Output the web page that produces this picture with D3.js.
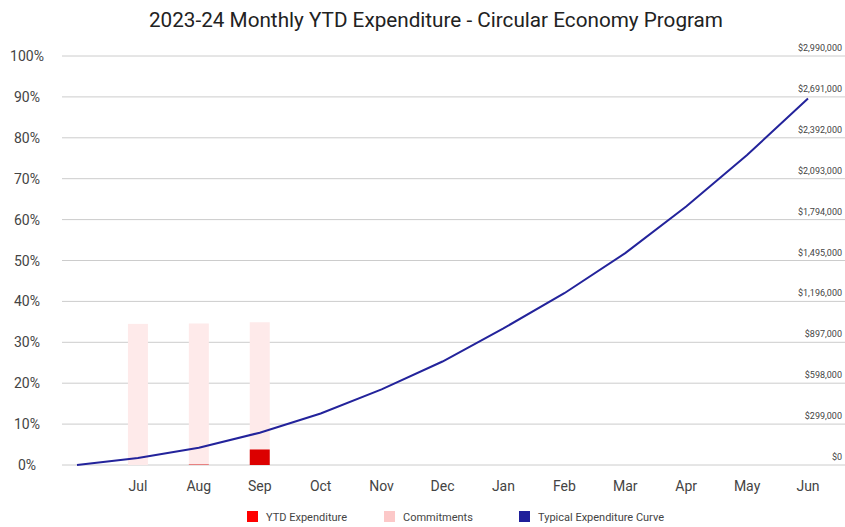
<!DOCTYPE html>
<html>
<head>
<meta charset="utf-8">
<script src="https://cdn.jsdelivr.net/npm/d3@7"></script>
<style>
  body { margin: 0; background: #fff; }
  text { font-family: Roboto, "Liberation Sans", Arial, sans-serif; }
</style>
</head>
<body>
<div id="chart"></div>
<script>
// months (first slot is the empty start point of the curve)
const months = ['', 'Jul', 'Aug', 'Sep', 'Oct', 'Nov', 'Dec', 'Jan', 'Feb', 'Mar', 'Apr', 'May', 'Jun'];
const ytdExpenditure = [null, 0, 0.2, 3.8, null, null, null, null, null, null, null, null, null];
const commitments = [null, 34.5, 34.4, 31.1, null, null, null, null, null, null, null, null, null];
const typicalCurve = [0, 1.7, 4.2, 7.9, 12.6, 18.5, 25.3, 33.4, 42.0, 51.8, 63.2, 75.8, 89.6];
const pctTicks = [0, 10, 20, 30, 40, 50, 60, 70, 80, 90, 100];
const budget = 2990000;

const width = 845, height = 527;
const svg = d3.select('#chart').append('svg')
  .attr('width', width)
  .attr('height', height);

const x = d3.scalePoint().domain(months).range([77, 808]);
const y = d3.scaleLinear().domain([0, 100]).range([465, 56]);
const yDollar = d3.scaleLinear().domain([0, budget]).range([465, 56]);

// title
svg.append('text')
  .attr('x', 436).attr('y', 27)
  .attr('text-anchor', 'middle')
  .style('font-size', '20.7px')
  .style('fill', '#222')
  .text('2023-24 Monthly YTD Expenditure - Circular Economy Program');

// gridlines
svg.append('g')
  .selectAll('line')
  .data(pctTicks)
  .enter()
  .append('line')
  .attr('x1', 62).attr('x2', 845)
  .attr('y1', d => y(d)).attr('y2', d => y(d))
  .style('stroke', '#cccccc')
  .style('stroke-width', 1);

// left axis labels
svg.append('g')
  .selectAll('text')
  .data(pctTicks)
  .enter()
  .append('text')
  .attr('x', 27)
  .attr('y', d => y(d) + 5)
  .attr('text-anchor', 'middle')
  .style('font-size', '14px')
  .style('fill', '#444')
  .text(d => d + '%');

// right axis labels (dollars)
const fmt = d3.format('$,');
svg.append('g')
  .selectAll('text')
  .data(pctTicks.map(p => budget * p / 100))
  .enter()
  .append('text')
  .attr('x', 842)
  .attr('y', d => yDollar(d) - 5)
  .attr('text-anchor', 'end')
  .style('font-size', '9px')
  .style('fill', '#444')
  .text(d => fmt(Math.round(d)));

// x labels
svg.append('g')
  .selectAll('text')
  .data(months.filter(m => m !== ''))
  .enter()
  .append('text')
  .attr('x', d => x(d))
  .attr('y', 491)
  .attr('text-anchor', 'middle')
  .style('font-size', '14px')
  .style('fill', '#444')
  .text(d => d);

// stacked bars
const barW = 20;
const barData = months.map((m, i) => ({ m, ytd: ytdExpenditure[i], com: commitments[i] }))
  .filter(d => d.ytd !== null);

svg.append('g')
  .selectAll('rect')
  .data(barData)
  .enter()
  .append('rect')
  .attr('x', d => x(d.m) - barW / 2)
  .attr('width', barW)
  .attr('y', d => y(d.ytd + d.com))
  .attr('height', d => y(d.ytd) - y(d.ytd + d.com))
  .style('fill', '#feeaea');

svg.append('g')
  .selectAll('rect')
  .data(barData)
  .enter()
  .append('rect')
  .attr('x', d => x(d.m) - barW / 2)
  .attr('width', barW)
  .attr('y', d => y(d.ytd))
  .attr('height', d => y(0) - y(d.ytd))
  .style('fill', d => d.ytd < 1 ? '#e86a6a' : '#dc0000');

// typical expenditure curve
const line = d3.line()
  .x((d, i) => x(months[i]))
  .y(d => y(d));

svg.append('path')
  .datum(typicalCurve)
  .attr('d', line)
  .style('fill', 'none')
  .style('stroke', '#23239b')
  .style('stroke-width', 2);

// legend
const legendItems = [
  { name: 'YTD Expenditure', color: '#ff0000', x: 247 },
  { name: 'Commitments', color: '#fcc8c8', x: 384 },
  { name: 'Typical Expenditure Curve', color: '#1f1f9a', x: 519 }
];
const legend = svg.append('g')
  .selectAll('g')
  .data(legendItems)
  .enter()
  .append('g')
  .attr('transform', d => `translate(${d.x}, 511)`);

legend.append('rect')
  .attr('width', 11).attr('height', 11)
  .style('fill', d => d.color);

legend.append('text')
  .attr('x', 19).attr('y', 9.5)
  .style('font-size', '11px')
  .style('fill', '#444')
  .text(d => d.name);
</script>
</body>
</html>
